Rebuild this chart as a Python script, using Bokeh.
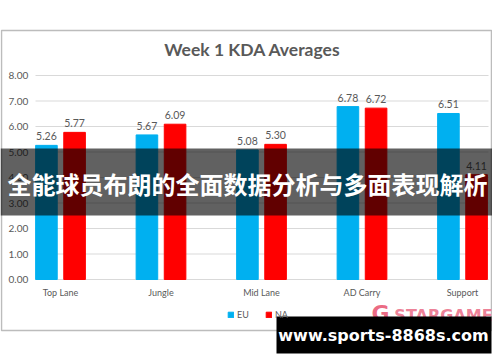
from bokeh.plotting import figure
from bokeh.models import (ColumnDataSource, Label, BoxAnnotation,
                          Legend, LegendItem, Range1d)
from bokeh.core.properties import value
from bokeh.embed import file_html
from bokeh.resources import INLINE

categories = ["Top Lane", "Jungle", "Mid Lane", "AD Carry", "Support"]
eu_values = [5.26, 5.67, 5.08, 6.78, 6.51]
na_values = [5.77, 6.09, 5.30, 6.72, 4.11]
y_ticks = [0, 1, 2, 3, 4, 5, 6, 7, 8]
title_text = "Week 1 KDA Averages"
banner_text = "全能球员布朗的全面数据分析与多面表现解析"
watermark_text = "www.sports-8868s.com"
logo_text = "STARGAME"

EU_COLOR = "#00b0f0"
NA_COLOR = "#ff0000"
GRAY = "#595959"
FONT = "Lato"

W, H = 492, 354
# layout helpers (pixel coords, origin top-left)
CAT0, CATSTEP = 60.0, 100.5     # pixel x of first category, spacing
ZERO_Y, UNIT = 279.0, 25.5      # pixel y of value 0, pixels per unit

def dx(X):
    return (X - CAT0) / CATSTEP

def dy(Y):
    return (ZERO_Y - Y) / UNIT

def sy(Y):
    return H - Y

idx = list(range(len(categories)))
src = ColumnDataSource(dict(
    x_eu=[i - 0.14 for i in idx], x_na=[i + 0.14 for i in idx],
    eu=eu_values, na=na_values,
    eu_lbl=[f"{v:.2f}" for v in eu_values], na_lbl=[f"{v:.2f}" for v in na_values],
))

p = figure(width=W, height=H, output_backend="svg", toolbar_location=None,
           x_range=Range1d(dx(0), dx(W)), y_range=Range1d(dy(H), dy(0)),
           min_border=0, x_axis_type=None, y_axis_type=None)
p.outline_line_color = None
p.background_fill_color = "white"
p.border_fill_color = "white"
p.grid.visible = False

# gridlines and tick labels
p.segment(x0=[dx(35)] * len(y_ticks), x1=[dx(488)] * len(y_ticks), y0=y_ticks, y1=y_ticks,
          line_color="#d9d9d9", line_width=1)
p.text(x=[dx(8)] * len(y_ticks), y=y_ticks, text=[f"{t:.2f}" for t in y_ticks],
       text_align="left", text_baseline="middle", text_font=value(FONT),
       text_font_size="10px", text_color=GRAY)
p.text(x=idx, y=[dy(292)] * len(idx), text=categories, text_align="center",
       text_baseline="middle", text_font=value(FONT), text_font_size="9px",
       text_color=GRAY)

r_eu = p.vbar(x="x_eu", top="eu", width=0.215, source=src, color=EU_COLOR)
r_na = p.vbar(x="x_na", top="na", width=0.215, source=src, color=NA_COLOR)

p.text(x="x_eu", y="eu", text="eu_lbl", source=src, text_align="center",
       text_baseline="bottom", y_offset=-5, text_font=value(FONT),
       text_font_size="10.5px", text_color=GRAY)
p.text(x="x_na", y="na", text="na_lbl", source=src, text_align="center",
       text_baseline="bottom", y_offset=-5, text_font=value(FONT),
       text_font_size="10.5px", text_color=GRAY)

# chart border
p.add_layout(BoxAnnotation(left=1, right=W - 1, top=sy(30), bottom=sy(330),
                           left_units="screen", right_units="screen",
                           top_units="screen", bottom_units="screen",
                           fill_alpha=0, line_color="#222222", line_width=1.5))

p.add_layout(Label(x=252, y=sy(49), x_units="screen", y_units="screen",
                   text=title_text, text_align="center", text_baseline="middle",
                   text_font=FONT, text_font_style="bold", text_font_size="17.5px",
                   text_color=GRAY))

legend = Legend(items=[LegendItem(label="EU", renderers=[r_eu]),
                       LegendItem(label="NA", renderers=[r_na])],
                location=(227, sy(320)), orientation="horizontal",
                glyph_width=7, glyph_height=7, label_text_font=FONT,
                label_text_font_size="9px", label_text_color=GRAY,
                padding=0, margin=0, spacing=8, label_standoff=3,
                border_line_color=None, background_fill_alpha=0)
p.add_layout(legend)

# logo watermark
p.add_layout(Label(x=380, y=sy(313), x_units="screen", y_units="screen",
                   text="G", text_align="center", text_baseline="middle",
                   text_font="DejaVu Sans", text_font_style="bold", text_font_size="22px",
                   text_color="#e8506e", text_alpha=0.85))
p.add_layout(Label(x=443, y=sy(315), x_units="screen", y_units="screen",
                   text=logo_text, text_align="center", text_baseline="middle",
                   text_font="DejaVu Sans", text_font_style="bold", text_font_size="16px",
                   text_color="#e8607c", text_alpha=0.8))

# banner overlay
p.add_layout(BoxAnnotation(left=0, right=W, top=sy(148), bottom=sy(215),
                           left_units="screen", right_units="screen",
                           top_units="screen", bottom_units="screen",
                           fill_color="black", fill_alpha=0.62, line_color=None))
p.add_layout(Label(x=247, y=sy(183), x_units="screen", y_units="screen",
                   text=banner_text, text_align="center", text_baseline="middle",
                   text_font="Noto Sans CJK SC", text_font_style="bold",
                   text_font_size="24px", text_color="white"))

# url watermark
p.add_layout(BoxAnnotation(left=276, right=W - 1, top=sy(316), bottom=sy(353),
                           left_units="screen", right_units="screen",
                           top_units="screen", bottom_units="screen",
                           fill_color="black", fill_alpha=1, line_color=None))
p.add_layout(Label(x=383, y=sy(335), x_units="screen", y_units="screen",
                   text=watermark_text, text_align="center", text_baseline="middle",
                   text_font="DejaVu Sans", text_font_style="bold",
                   text_font_size="16px", text_color="white"))

open("out.html", "w").write(file_html(p, INLINE))
